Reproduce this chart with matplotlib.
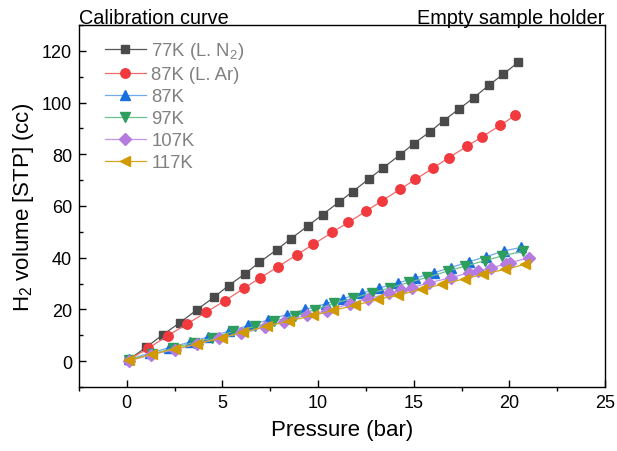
import matplotlib
matplotlib.use("Agg")
import matplotlib.pyplot as plt
from matplotlib.ticker import MultipleLocator

plt.rcParams['font.family'] = ['Liberation Sans', 'DejaVu Sans']
plt.rcParams['mathtext.fontset'] = 'custom'
plt.rcParams['mathtext.rm'] = 'Liberation Sans'
plt.rcParams['mathtext.it'] = 'Liberation Sans:italic'
plt.rcParams['mathtext.bf'] = 'Liberation Sans:bold'

# ---- data ----
labels = ["77K (L. N$_2$)", "87K (L. Ar)", "87K", "97K", "107K", "117K"]

x_77 = [0.09, 1.02, 1.88, 2.78, 3.67, 4.57, 5.32, 6.18, 6.93, 7.84, 8.59, 9.45, 10.24,
        11.07, 11.82, 12.66, 13.41, 14.27, 15.0, 15.85, 16.56, 17.39, 18.14, 18.93, 19.68, 20.47]
y_77 = [0.5, 5.4, 10.2, 14.9, 19.9, 24.8, 29.2, 33.8, 38.2, 43.1, 47.4, 52.2, 56.7,
        61.4, 65.6, 70.5, 74.8, 79.7, 84.1, 88.7, 93.0, 97.6, 101.9, 106.7, 111.0, 115.6]

x_87ar = [0.09, 1.13, 2.13, 3.13, 4.14, 5.14, 6.13, 6.97, 7.93, 8.90, 9.76, 10.73, 11.59,
          12.53, 13.34, 14.27, 15.09, 16.02, 16.85, 17.78, 18.59, 19.52, 20.32]
y_87ar = [0.5, 5.0, 9.8, 14.3, 18.9, 23.4, 28.2, 32.2, 36.6, 41.2, 45.2, 49.8, 53.7,
          58.1, 62.0, 66.4, 70.3, 74.7, 78.7, 83.1, 86.8, 91.2, 95.1]

x_87 = [0.14, 1.22, 2.23, 3.31, 4.27, 5.35, 6.36, 7.4, 8.36, 9.34, 10.4, 11.29, 12.28,
        13.2, 14.2, 15.07, 16.06, 16.94, 17.91, 18.78, 19.72, 20.61]
y_87 = [0.66, 3.2, 5.2, 7.4, 9.4, 11.6, 13.8, 15.9, 18.0, 20.0, 22.2, 24.2, 26.2,
        28.3, 30.3, 32.1, 34.2, 36.2, 38.5, 40.4, 42.6, 44.0]

x_97 = [0.09, 1.34, 2.42, 3.49, 4.48, 5.55, 6.71, 7.7, 8.77, 9.85, 10.84, 11.81, 12.81,
        13.76, 14.77, 15.71, 16.81, 17.68, 18.73, 19.6, 20.7]
y_97 = [0.5, 2.7, 5.0, 7.2, 8.9, 11.5, 13.4, 15.4, 17.6, 19.9, 22.4, 24.3, 26.4,
        28.3, 30.5, 32.4, 34.9, 36.7, 38.9, 40.6, 42.5]

x_107 = [0.09, 1.25, 2.51, 3.67, 4.83, 5.99, 7.2, 8.24, 9.4, 10.47, 11.67, 12.63,
         13.73, 14.32, 14.9, 15.82, 16.94, 17.91, 18.38, 19.03, 19.83, 20.04, 21.05]
y_107 = [0.0, 2.5, 4.4, 6.7, 8.9, 10.8, 13.1, 15.3, 17.9, 19.4, 22.2, 24.2,
         26.2, 27.5, 28.4, 30.3, 32.3, 34.2, 34.8, 36.2, 37.4, 38.1, 40.0]

x_117 = [0.14, 1.31, 2.52, 3.65, 4.97, 6.1, 7.32, 8.48, 9.75, 10.8, 11.93, 13.15, 14.2,
         15.42, 16.47, 17.68, 18.64, 19.78, 20.82]
y_117 = [0.3, 2.6, 4.8, 6.5, 9.1, 11.2, 13.5, 15.5, 17.7, 19.6, 21.6, 23.9, 25.6,
         27.8, 29.7, 31.9, 33.6, 35.5, 37.4]

xs = [x_77, x_87ar, x_87, x_97, x_107, x_117]
ys = [y_77, y_87ar, y_87, y_97, y_107, y_117]

styles = [
    dict(marker='s', mfc='#4a4a4a', mec='#4a4a4a', color='#555555', ms=6.0),
    dict(marker='o', mfc='#f03a3d', mec='#f03a3d', color='#f06a6a', ms=6.8),
    dict(marker='^', mfc='#1a6fe0', mec='#1a6fe0', color='#72a8ec', ms=6.8),
    dict(marker='v', mfc='#2e9e5e', mec='#2e9e5e', color='#6cc18f', ms=6.8),
    dict(marker='D', mfc='#b57be0', mec='#b57be0', color='#c394ea', ms=5.8),
    dict(marker='<', mfc='#d09a00', mec='#d09a00', color='#d2a523', ms=6.8),
]

fig = plt.figure(figsize=(6.17, 4.52), dpi=100)
ax = fig.add_axes([0.128, 0.1416, 0.8525, 0.8009])

for x, y, lab, st in zip(xs, ys, labels, styles):
    ax.plot(x, y, label=lab, lw=0.9, **st)

ax.set_xlim(-2.5, 25)
ax.set_ylim(-10, 130)
ax.xaxis.set_major_locator(MultipleLocator(5))
ax.xaxis.set_minor_locator(MultipleLocator(2.5))
ax.yaxis.set_major_locator(MultipleLocator(20))
ax.yaxis.set_minor_locator(MultipleLocator(10))
ax.tick_params(axis='both', which='major', direction='in', length=5, width=1.0,
               labelsize=13, pad=5, top=False, right=False)
ax.tick_params(axis='x', which='minor', direction='out', length=3, width=1.0, top=False)
ax.tick_params(axis='y', which='minor', direction='in', length=3, width=1.0, right=False)
for s in ax.spines.values():
    s.set_linewidth(1.0)

ax.set_xlabel("Pressure (bar)", fontsize=16, labelpad=6)
ax.set_ylabel("H$_2$ volume [STP] (cc)", fontsize=16, labelpad=4)

fig.text(0.128, 0.98, "Calibration curve", fontsize=14.3, ha='left', va='top')
fig.text(0.98, 0.98, "Empty sample holder", fontsize=14.3, ha='right', va='top')

leg = ax.legend(loc='upper left', frameon=False, fontsize=13.3, handlelength=2.2,
                handletextpad=0.3, labelspacing=0.27, borderaxespad=0.3,
                bbox_to_anchor=(0.025, 0.993))
for t in leg.get_texts():
    t.set_color('#808080')

fig.savefig("out.png", dpi=100)
